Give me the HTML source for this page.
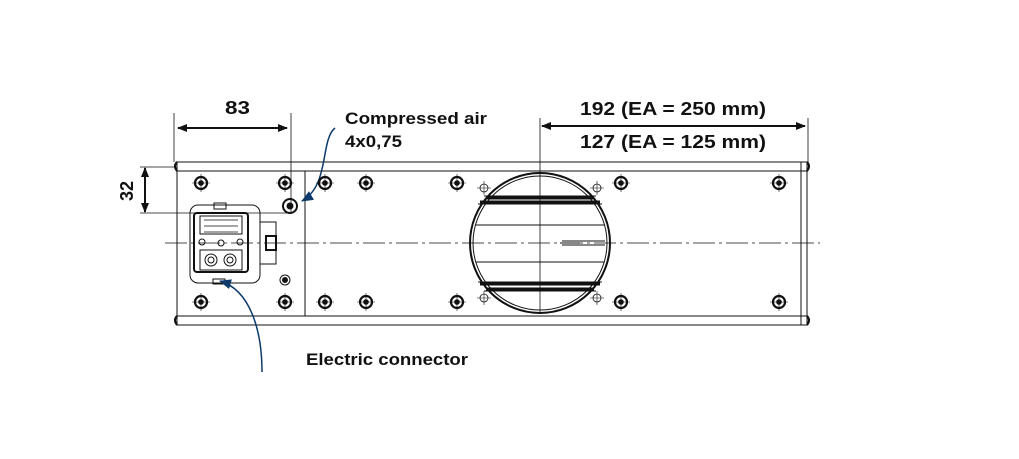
<!DOCTYPE html>
<html><head><meta charset="utf-8"><style>
body{margin:0;background:#fff;width:1019px;height:454px;overflow:hidden}
text{font-family:"Liberation Sans",Arial,sans-serif;font-weight:bold;fill:#111}
</style></head><body>
<svg width="1019" height="454" viewBox="0 0 1019 454" xmlns="http://www.w3.org/2000/svg">
<defs>
<marker id="ah" markerWidth="10" markerHeight="8" refX="9" refY="4" orient="auto" markerUnits="userSpaceOnUse"><path d="M0,0 L10,4 L0,8 z" fill="#111"/></marker>
<marker id="bh" markerWidth="12" markerHeight="10" refX="11" refY="5" orient="auto" markerUnits="userSpaceOnUse"><path d="M0,0 L12,5 L0,10 z" fill="#0d3a6b"/></marker>
<g id="sc"><circle r="6" fill="none" stroke="#111" stroke-width="2.2"/><circle r="2.8" fill="#111"/><path d="M-9,0H9M0,-9V9" stroke="#111" stroke-width="0.6"/></g>
<g id="cr"><circle r="4" fill="none" stroke="#111" stroke-width="0.8"/><path d="M-7,0H7M0,-7V7" stroke="#111" stroke-width="0.6"/></g>
</defs>
<g fill="none" stroke="#111" stroke-width="1">
<rect x="177" y="162" width="630" height="163"/>
<path d="M177,171H807M177,316H807M305,171V316M801,162V325"/>
<path d="M177,162 q-4,4 0,9M177,316 q-4,4 0,9M807,162 q4,4 0,9M807,316 q4,4 0,9" stroke-width="2"/>
<circle cx="540" cy="243" r="70" stroke-width="2"/>
<circle cx="540" cy="243" r="67"/>
<path d="M484,196H596M478,204H602M476,225H604M476,262H604M478,282H602M484,291H596" />
<path d="M486,198H594M480,202H600M480,284H600M486,289H594" stroke-width="3"/>
<path d="M562,241H605M562,245H605M560,243H580" />
<rect x="190" y="205" width="70" height="78" rx="8"/>
<rect x="194" y="213" width="54" height="59" rx="3" stroke-width="2"/>
<rect x="200" y="216" width="42" height="18"/>
<rect x="200" y="250" width="42" height="20"/>
<circle cx="211" cy="260" r="6"/><circle cx="230" cy="260" r="6"/>
<circle cx="211" cy="260" r="3"/><circle cx="230" cy="260" r="3"/>
<circle cx="202" cy="242" r="3"/><circle cx="240" cy="242" r="3"/><circle cx="221" cy="243" r="3"/>
<rect x="260" y="222" width="16" height="42"/>
<rect x="266" y="236" width="10" height="14" stroke-width="2"/>
<rect x="214" y="203" width="12" height="6"/>
<rect x="213" y="279" width="12" height="5"/>
<circle cx="290" cy="206" r="7" stroke-width="2"/><circle cx="290" cy="206" r="3" fill="#111"/>
<circle cx="285" cy="280" r="5"/><circle cx="285" cy="280" r="2.5" fill="#111"/>
<path d="M165,243H820" stroke-dasharray="22,4,3,4" stroke-width="0.8"/>
<path d="M174,113V162M291,113V212M540,118V313M808,118V163M140,167H176M140,213H287" stroke-width="0.8"/>
<path d="M180,128H287" stroke-width="2" marker-end="url(#ah)"/>
<path d="M285,128H178" stroke-width="2" marker-end="url(#ah)"/>
<path d="M545,126H805" stroke-width="2" marker-end="url(#ah)"/>
<path d="M800,126H542" stroke-width="2" marker-end="url(#ah)"/>
<path d="M145,172V212" stroke-width="2" marker-end="url(#ah)"/>
<path d="M145,208V168" stroke-width="2" marker-end="url(#ah)"/>
<path d="M335,128 C320,140 330,185 302,201" stroke="#0d3a6b" stroke-width="1.5" marker-end="url(#bh)"/>
<path d="M262,372 C262,330 250,290 220,281" stroke="#0d3a6b" stroke-width="1.5" marker-end="url(#bh)"/>
</g>
<g>
<use href="#sc" x="201" y="183"/><use href="#sc" x="285" y="183"/><use href="#sc" x="325" y="183"/><use href="#sc" x="366" y="183"/><use href="#sc" x="457" y="183"/><use href="#sc" x="621" y="183"/><use href="#sc" x="779" y="183"/>
<use href="#sc" x="201" y="302"/><use href="#sc" x="285" y="302"/><use href="#sc" x="325" y="302"/><use href="#sc" x="366" y="302"/><use href="#sc" x="457" y="302"/><use href="#sc" x="621" y="302"/><use href="#sc" x="779" y="302"/>
<use href="#cr" x="484" y="188"/><use href="#cr" x="597" y="188"/><use href="#cr" x="484" y="298"/><use href="#cr" x="597" y="298"/>
</g>
<g fill="none" stroke="#111" stroke-width="0.8">
<path d="M204,220h34M204,226h34M204,232h34"/>
</g>
<text x="225" y="114" font-size="18" textLength="25" lengthAdjust="spacingAndGlyphs">83</text>
<text x="133" y="191" font-size="18" text-anchor="middle" transform="rotate(-90 133 191)">32</text>
<text x="345" y="124" font-size="17" textLength="142" lengthAdjust="spacingAndGlyphs">Compressed air</text>
<text x="345" y="147" font-size="17" textLength="57" lengthAdjust="spacingAndGlyphs">4x0,75</text>
<text x="580" y="115" font-size="18" textLength="186" lengthAdjust="spacingAndGlyphs">192 (EA = 250 mm)</text>
<text x="580" y="148" font-size="18" textLength="186" lengthAdjust="spacingAndGlyphs">127 (EA = 125 mm)</text>
<text x="306" y="365" font-size="17" textLength="162" lengthAdjust="spacingAndGlyphs">Electric connector</text>
</svg>
</body></html>
